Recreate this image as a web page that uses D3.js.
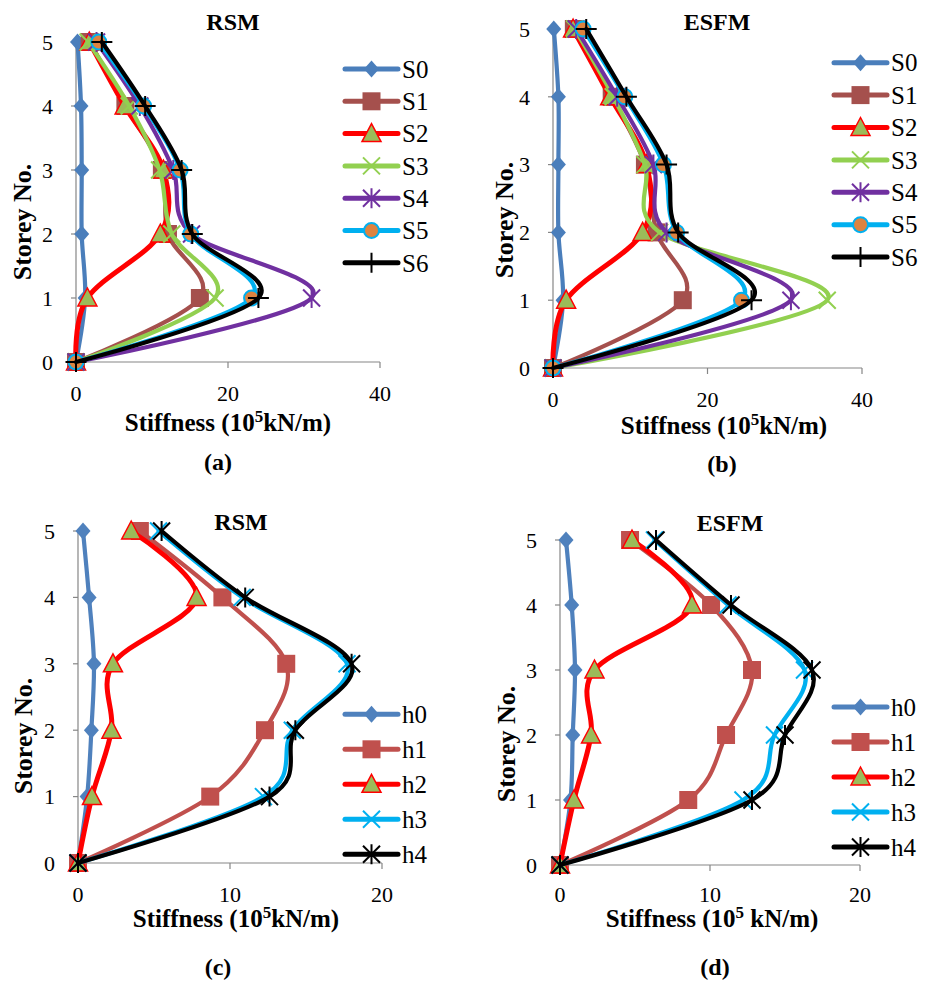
<!DOCTYPE html>
<html>
<head>
<meta charset="utf-8">
<script src="https://cdn.jsdelivr.net/npm/d3@7"></script>
<style>
  body { margin: 0; background: #fff; }
  svg { display: block; }
</style>
</head>
<body>
<svg id="chart" width="932" height="981" font-family="'Liberation Serif', 'Times New Roman', 'DejaVu Serif', serif"></svg>
<script>
// storey numbers, bottom to top
const storeys = [0, 1, 2, 3, 4, 5]
const sNames = ['S0', 'S1', 'S2', 'S3', 'S4', 'S5', 'S6']
const hNames = ['h0', 'h1', 'h2', 'h3', 'h4']
const ticks40 = [0, 20, 40]
const ticks20 = [0, 10, 20]

// stiffness (10^5 kN/m) per series, storey 0..5
const rsmS = [
  [0, 1.2, 0.75, 0.75, 0.66, 0.2],
  [0, 16.3, 12.1, 11.3, 6.5, 1.8],
  [0, 1.5, 11.1, 11.5, 6.4, 1.75],
  [0, 18.3, 12.6, 11.0, 7.0, 1.6],
  [0, 31.0, 15.2, 12.8, 8.4, 2.7],
  [0, 23.1, 15.1, 13.7, 8.9, 3.0],
  [0, 24.0, 15.3, 13.9, 9.1, 3.4]
]
const esfmS = [
  [0, 1.3, 0.7, 0.7, 0.7, 0.1],
  [0, 16.8, 13.4, 11.9, 7.6, 2.7],
  [0, 1.7, 11.6, 12.1, 7.4, 2.6],
  [0, 35.5, 13.8, 11.9, 7.8, 2.8],
  [0, 30.8, 14.7, 13.0, 8.3, 3.0],
  [0, 24.4, 16.0, 14.3, 9.3, 3.9],
  [0, 25.7, 16.2, 14.7, 9.5, 4.3]
]
const rsmH = [
  [0, 0.6, 0.88, 1.05, 0.73, 0.33],
  [0, 8.7, 12.3, 13.7, 9.5, 4.07],
  [0, 0.92, 2.2, 2.3, 7.8, 3.5],
  [0, 12.2, 14.1, 17.7, 10.8, 5.3],
  [0, 12.6, 14.3, 18.0, 11.0, 5.5]
]
const esfmH = [
  [0, 0.7, 0.85, 1.0, 0.78, 0.4],
  [0, 8.55, 11.07, 12.8, 10.07, 4.67],
  [0, 0.93, 2.07, 2.3, 8.8, 4.8],
  [0, 12.2, 14.3, 16.3, 11.2, 6.3],
  [0, 12.8, 15.0, 16.8, 11.4, 6.4]
]

// series styles
const sStyles = [
  { color: '#4A7EBB', marker: 'diamond', fill: '#4A7EBB' },
  { color: '#A5504D', marker: 'square', fill: '#A5504D' },
  { color: '#FF0000', marker: 'triangle', fill: '#9BBB59', width: 5 },
  { color: '#92D050', marker: 'cross' },
  { color: '#7030A0', marker: 'star' },
  { color: '#00B0F0', marker: 'circle', fill: '#DD8340' },
  { color: '#000000', marker: 'plus' }
]
const hStyles = [
  { color: '#4F81BD', marker: 'diamond', fill: '#4F81BD' },
  { color: '#C0504D', marker: 'square', fill: '#C0504D' },
  { color: '#FF0000', marker: 'triangle', fill: '#9BBB59', width: 5 },
  { color: '#00B0F0', marker: 'cross' },
  { color: '#000000', marker: 'star' }
]

const panels = [
  { values: rsmS, names: sNames, styles: sStyles, xMax: 40, xTicks: ticks40, title: 'RSM', cap: '(a)', unitSpace: '',
    left: 76, right: 380, top: 42, bottom: 362, tickBase: 401, titleX: 233, titleBase: 30,
    xTitleX: 228, xTitleBase: 431, capX: 218, capBase: 470, yTitleX: 22, yTitleY: 222, legX: 345, legY0: 69, legStep: 32.3 },
  { values: esfmS, names: sNames, styles: sStyles, xMax: 40, xTicks: ticks40, title: 'ESFM', cap: '(b)', unitSpace: '',
    left: 553, right: 862, top: 29, bottom: 368, tickBase: 407, titleX: 717, titleBase: 30,
    xTitleX: 724, xTitleBase: 434, capX: 722, capBase: 472, yTitleX: 504, yTitleY: 220, legX: 834, legY0: 62.7, legStep: 32.4 },
  { values: rsmH, names: hNames, styles: hStyles, xMax: 20, xTicks: ticks20, title: 'RSM', cap: '(c)', unitSpace: '',
    left: 78, right: 382, top: 531, bottom: 863, tickBase: 902, titleX: 241, titleBase: 530,
    xTitleX: 236, xTitleBase: 927, capX: 218, capBase: 975, yTitleX: 23, yTitleY: 736, legX: 345, legY0: 714.3, legStep: 35 },
  { values: esfmH, names: hNames, styles: hStyles, xMax: 20, xTicks: ticks20, title: 'ESFM', cap: '(d)', unitSpace: ' ',
    left: 560, right: 860, top: 540, bottom: 865, tickBase: 902, titleX: 730, titleBase: 531,
    xTitleX: 712, xTitleBase: 927, capX: 715, capBase: 975, yTitleX: 506, yTitleY: 744, legX: 834, legY0: 707, legStep: 35 }
]

const svg = d3.select('#chart')
const AXIS = '#868686'

function drawMarker (g, style, cx, cy) {
  const c = style.color
  if (style.marker === 'diamond') {
    g.append('path').attr('d', `M${cx},${cy - 8.5}L${cx + 7.5},${cy}L${cx},${cy + 8.5}L${cx - 7.5},${cy}Z`)
      .attr('fill', style.fill)
  } else if (style.marker === 'square') {
    g.append('rect').attr('x', cx - 9).attr('y', cy - 9).attr('width', 18).attr('height', 18)
      .attr('fill', style.fill)
  } else if (style.marker === 'triangle') {
    g.append('path').attr('d', `M${cx},${cy - 10}L${cx + 9.5},${cy + 8}L${cx - 9.5},${cy + 8}Z`)
      .attr('fill', style.fill).attr('stroke', c).attr('stroke-width', 1.5)
  } else if (style.marker === 'circle') {
    g.append('circle').attr('cx', cx).attr('cy', cy).attr('r', 7.5)
      .attr('fill', style.fill).attr('stroke', c).attr('stroke-width', 2)
  } else {
    const r = 8.5
    let d = ''
    if (style.marker === 'cross' || style.marker === 'star') {
      d += `M${cx - r},${cy - r}L${cx + r},${cy + r}M${cx - r},${cy + r}L${cx + r},${cy - r}`
    }
    if (style.marker === 'star' || style.marker === 'plus') {
      d += `M${cx},${cy - r - 1.5}L${cx},${cy + r + 1.5}`
    }
    if (style.marker === 'plus') d += `M${cx - r - 2},${cy}L${cx + r + 2},${cy}`
    g.append('path').attr('d', d).attr('fill', 'none').attr('stroke', c).attr('stroke-width', 2)
  }
}

panels.forEach(p => {
  const x = d3.scaleLinear().domain([0, p.xMax]).range([p.left, p.right])
  const y = d3.scaleLinear().domain([0, 5]).range([p.bottom, p.top])
  const g = svg.append('g')

  // axes
  g.append('line').attr('x1', x(0)).attr('x2', x(0)).attr('y1', y(0)).attr('y2', y(5))
    .attr('stroke', AXIS).attr('stroke-width', 1.2)
  g.append('line').attr('x1', x(0)).attr('x2', x(p.xMax)).attr('y1', y(0)).attr('y2', y(0))
    .attr('stroke', AXIS).attr('stroke-width', 1.2)
  storeys.forEach(s => {
    g.append('line').attr('x1', x(0) - 5).attr('x2', x(0)).attr('y1', y(s)).attr('y2', y(s))
      .attr('stroke', AXIS).attr('stroke-width', 1.2)
    g.append('text').attr('x', x(0) - 23).attr('y', y(s)).attr('dy', '0.35em')
      .attr('text-anchor', 'end').attr('font-size', 22).text(s)
  })
  p.xTicks.forEach(t => {
    g.append('line').attr('x1', x(t)).attr('x2', x(t)).attr('y1', y(0)).attr('y2', y(0) + 6)
      .attr('stroke', AXIS).attr('stroke-width', 1.2)
    g.append('text').attr('x', x(t)).attr('y', p.tickBase)
      .attr('text-anchor', 'middle').attr('font-size', 22).text(t)
  })

  // series
  const line = d3.line()
    .x(d => x(d.v)).y(d => y(d.s))
    .curve(d3.curveCardinal.tension(0))
  p.values.forEach((vals, i) => {
    const st = p.styles[i]
    const pts = storeys.map((s, k) => ({ s, v: vals[k] }))
    const sg = g.append('g')
    sg.append('path').datum(pts).attr('d', line)
      .attr('fill', 'none').attr('stroke', st.color).attr('stroke-width', st.width || 4.2)
      .attr('stroke-linejoin', 'round').attr('stroke-linecap', 'round')
    pts.forEach(d => drawMarker(sg, st, x(d.v), y(d.s)))
  })

  // legend
  p.names.forEach((n, i) => {
    const st = p.styles[i]
    const ly = p.legY0 + i * p.legStep
    const lg = g.append('g')
    lg.append('line').attr('x1', p.legX).attr('x2', p.legX + 53).attr('y1', ly).attr('y2', ly)
      .attr('stroke', st.color).attr('stroke-width', 5).attr('stroke-linecap', 'round')
    drawMarker(lg, st, p.legX + 26.5, ly)
    lg.append('text').attr('x', p.legX + 57).attr('y', ly).attr('dy', '0.35em')
      .attr('font-size', 25).text(n)
  })

  // titles
  g.append('text').attr('x', p.titleX).attr('y', p.titleBase).attr('text-anchor', 'middle')
    .attr('font-size', 24).attr('font-weight', 'bold').text(p.title)
  g.append('text').attr('transform', `translate(${p.yTitleX},${p.yTitleY}) rotate(-90)`)
    .attr('dy', '0.35em').attr('text-anchor', 'middle')
    .attr('font-size', 26).attr('font-weight', 'bold').text('Storey No.')
  const xt = g.append('text').attr('x', p.xTitleX).attr('y', p.xTitleBase).attr('text-anchor', 'middle')
    .attr('font-size', 25).attr('font-weight', 'bold')
  xt.append('tspan').text('Stiffness (10')
  xt.append('tspan').attr('font-size', 17).attr('dy', -9).text('5')
  xt.append('tspan').attr('dy', 9).text(p.unitSpace + 'kN/m)')
  g.append('text').attr('x', p.capX).attr('y', p.capBase).attr('text-anchor', 'middle')
    .attr('font-size', 24).attr('font-weight', 'bold').text(p.cap)
})
</script>
</body>
</html>
